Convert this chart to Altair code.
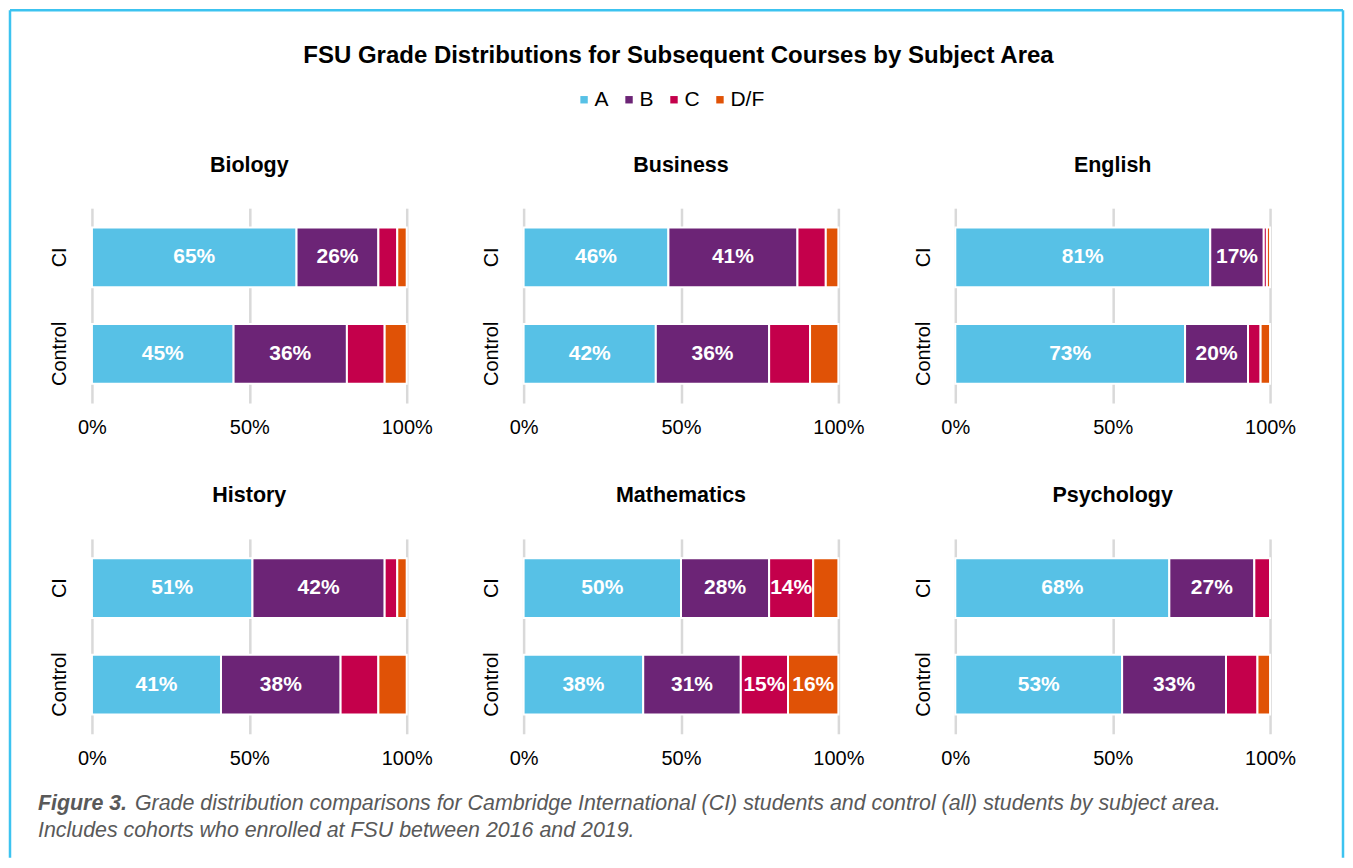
import altair as alt
import pandas as pd

# ---------------- data ----------------
subjects = ["Biology", "Business", "English", "History", "Mathematics", "Psychology"]
groups = ["CI", "Control"]
grades = ["A", "B", "C", "D/F"]
# order: Biology CI, Biology Control, Business CI, Business Control, ...
grade_A = [65, 45, 46, 42, 81, 73, 51, 41, 50, 38, 68, 53]
grade_B = [26, 36, 41, 36, 17, 20, 42, 38, 28, 31, 27, 33]
grade_C = [6, 12, 9, 13, 1, 4, 4, 12, 14, 15, 5, 10]
grade_DF = [3, 7, 4, 9, 1, 3, 3, 9, 8, 16, 0, 4]
axis_ticks = [0, 50, 100]

title_text = "FSU Grade Distributions for Subsequent Courses by Subject Area"
caption_bold = "Figure 3."
caption_line1 = ("Grade distribution comparisons for Cambridge International (CI) "
                 "students and control (all) students by subject area.")
caption_line2 = "Includes cohorts who enrolled at FSU between 2016 and 2019."

colors = ["#57C1E6", "#6C2476", "#C4004B", "#E05206"]
FONT = "Liberation Sans"
FRAME = "#3CC3F0"

rows = []
series = [grade_A, grade_B, grade_C, grade_DF]
for i, s in enumerate(subjects):
    for j, g in enumerate(groups):
        k = i * 2 + j
        for gi, gr in enumerate(grades):
            rows.append(dict(subject=s, group=g, grade=gr, order=gi, value=series[gi][k]))
df = pd.DataFrame(rows)

PW, PH = 315, 195
PANEL_TITLE = dict(fontSize=21.5, fontWeight="bold", font=FONT, color="#000000")

# -------- figure title / caption / frame annotations (attached to first panel) --------
one = pd.DataFrame({"k": [0]})
cap_color = "#595959"
txt = dict(font=FONT, color=cap_color, align="left", baseline="middle", fontStyle="italic")
first_title = alt.Chart(one).mark_text(
    text=subjects[0], align="center", baseline="middle", **PANEL_TITLE
).encode(x=alt.value(PW / 2), y=alt.value(-42))
main_title = alt.Chart(one).mark_text(
    text=title_text, font=FONT, fontSize=24, fontWeight="bold", color="#000000",
    align="center", baseline="middle",
).encode(x=alt.value(587), y=alt.value(-152))
cap_bold = alt.Chart(one).mark_text(
    text=caption_bold, fontSize=21.4, fontWeight="bold", **txt
).encode(x=alt.value(-54), y=alt.value(596))
cap1 = alt.Chart(one).mark_text(text=caption_line1, fontSize=21.4, **txt).encode(
    x=alt.value(43), y=alt.value(596)
)
cap2 = alt.Chart(one).mark_text(text=caption_line2, fontSize=21.4, **txt).encode(
    x=alt.value(-54), y=alt.value(623)
)
rule_style = dict(color=FRAME, strokeWidth=2.5)
frame_top = alt.Chart(one).mark_rule(**rule_style).encode(
    x=alt.value(-82), x2=alt.value(1252), y=alt.value(-198)
)
frame_left = alt.Chart(one).mark_rule(**rule_style).encode(
    x=alt.value(-82), y=alt.value(-198), y2=alt.value(650)
)
frame_right = alt.Chart(one).mark_rule(**rule_style).encode(
    x=alt.value(1252), y=alt.value(-198), y2=alt.value(650)
)
annotations = [first_title, main_title, cap_bold, cap1, cap2,
               frame_top, frame_left, frame_right]


def panel(subject, extra=()):
    base = (
        alt.Chart(df)
        .transform_filter(alt.datum.subject == subject)
        .transform_stack(
            stack="value",
            groupby=["subject", "group"],
            as_=["x0", "x1"],
            sort=[alt.SortField("order", order="ascending")],
        )
        .transform_calculate(
            mid="(datum.x0 + datum.x1) / 2",
            label="datum.value >= 14 ? datum.value + '%' : ''",
        )
    )
    y_enc = alt.Y(
        "group:N",
        sort=groups,
        title=None,
        scale=alt.Scale(paddingInner=0.38, paddingOuter=0.2),
        axis=alt.Axis(
            labelAngle=270,
            labelAlign="center",
            labelBaseline="alphabetic",
            labelPadding=26,
            labelFontSize=20,
            labelColor="#000000",
            labelFont=FONT,
            ticks=False,
            domain=False,
            grid=False,
        ),
    )
    x_enc = alt.X(
        "x0:Q",
        title=None,
        scale=alt.Scale(domain=[0, 100], nice=False),
        axis=alt.Axis(
            values=axis_ticks,
            labelExpr="datum.value + '%'",
            labelFlush=False,
            labelFontSize=20,
            labelColor="#000000",
            labelFont=FONT,
            labelPadding=15,
            ticks=False,
            domain=False,
            grid=True,
            gridColor="#D9D9D9",
            gridWidth=2.5,
        ),
    )
    bars = base.mark_bar(stroke="white", strokeWidth=2).encode(
        x=x_enc,
        x2="x1:Q",
        y=y_enc,
        color=alt.Color(
            "grade:N",
            scale=alt.Scale(domain=grades, range=colors),
            legend=alt.Legend(
                title=None,
                orient="none",
                legendX=482,
                legendY=-119,
                direction="horizontal",
                gridAlign="none",
                symbolType="square",
                symbolSize=55,
                symbolStrokeWidth=0,
                labelFontSize=21,
                labelFont=FONT,
                labelColor="#000000",
                labelOffset=0,
                columnPadding=9,
            ),
        ),
    )
    text = base.mark_text(
        color="white", fontWeight="bold", fontSize=21, font=FONT, baseline="middle"
    ).encode(x="mid:Q", y=alt.Y("group:N", sort=groups), text="label:N")
    layered = alt.layer(bars, text, *extra).properties(width=PW, height=PH)
    if extra:
        return layered
    return layered.properties(
        title=alt.TitleParams(subject, anchor="middle", offset=32, **PANEL_TITLE)
    )


panels = [panel(s, annotations if i == 0 else ()) for i, s in enumerate(subjects)]

chart = (
    alt.concat(
        *panels,
        columns=3,
        spacing=alt.RowColnumber(row=136, column=117),
        bounds="flush",
    )
    .properties(padding=0, background="white")
    .configure_view(strokeWidth=0)
)

chart.save("out.html", embed_options={"renderer": "svg", "actions": False})
